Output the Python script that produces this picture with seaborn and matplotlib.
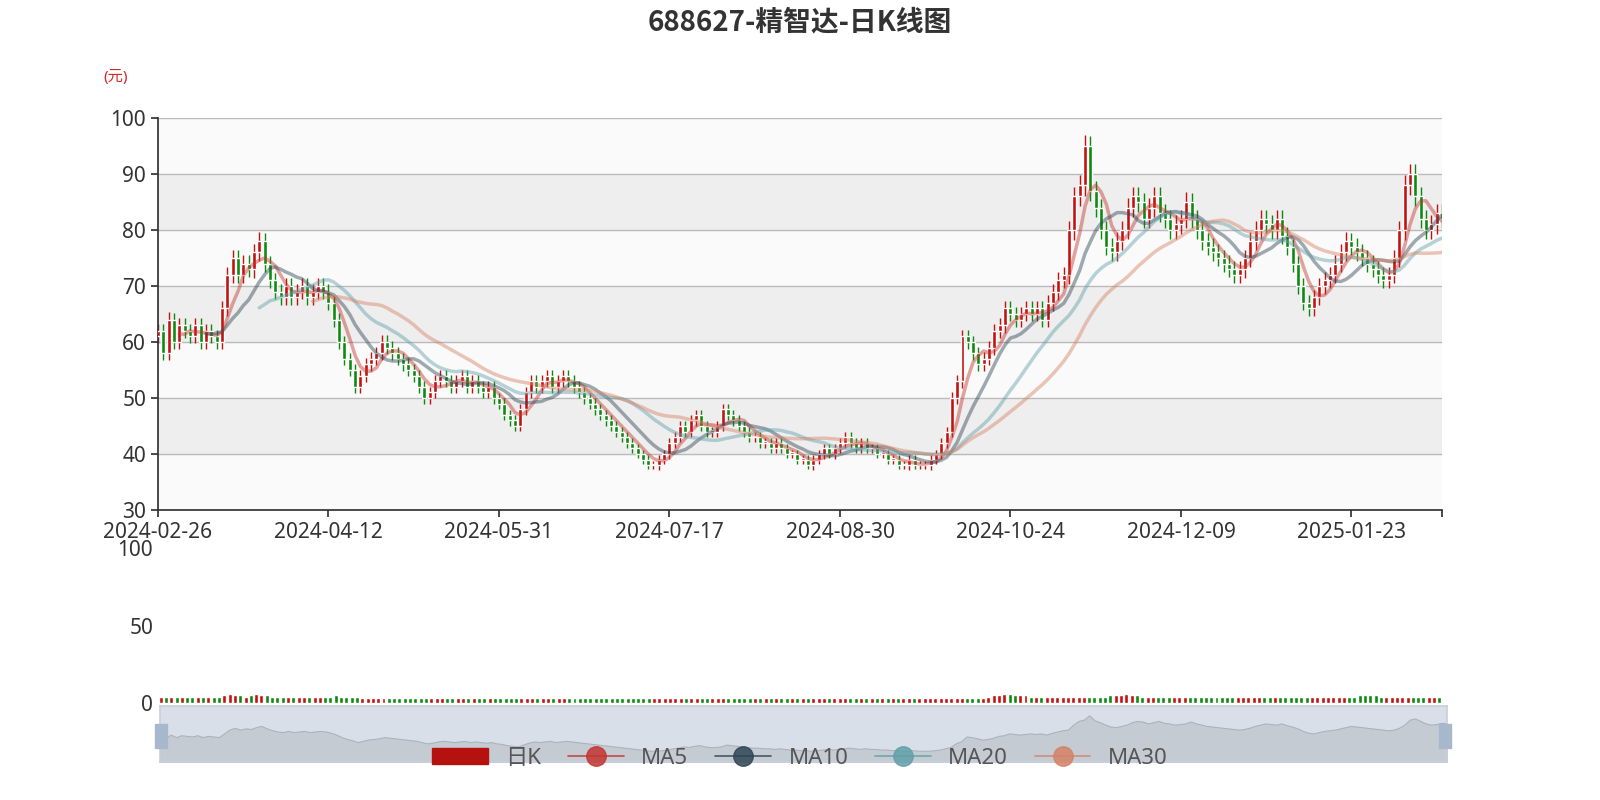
import numpy as np
import pandas as pd
import matplotlib
matplotlib.use("Agg")
import matplotlib.pyplot as plt
from matplotlib.patches import Patch
from matplotlib.lines import Line2D
import seaborn as sns

tick_labels = ["2024-02-26", "2024-04-12", "2024-05-31", "2024-07-17",
               "2024-08-30", "2024-10-24", "2024-12-09", "2025-01-23"]
closes = [62,58,64,60,63,62,61,63,60,62,61,60,
          66,72,75,72,74,73,76,78,74,
          71,69,68,70,68,69,70,68,69,70,69,
          67,64,60,57,55,52,54,56,
          57,58,60,59,58,57,56,55,
          54,52,50,51,53,54,53,52,
          53,54,52,53,52,51,52,50,
          49,47,46,45,48,51,53,52,
          53,54,52,53,54,53,52,51,
          50,49,48,47,46,45,44,43,
          42,41,40,39,38,38,39,40,
          42,43,45,44,46,47,45,44,
          44,45,48,47,46,45,44,43,
          43,42,42,41,42,41,40,40,
          39,39,38,39,40,41,40,41,
          42,43,42,41,42,41,41,40,
          40,39,39,38,38,39,38,38,
          38,39,40,42,44,50,53,61,
          60,58,56,57,59,62,63,66,
          65,64,65,66,65,66,64,67,
          69,71,72,80,86,88,95,87,
          84,80,77,76,78,80,84,86,
          85,82,84,86,83,82,80,81,
          82,85,82,80,78,77,76,75,
          74,73,72,73,75,78,80,82,
          81,80,82,79,77,74,70,67,
          66,68,70,71,72,74,76,78,
          77,76,75,74,73,72,71,72,
          75,80,88,90,86,82,80,81,
          83,82]
volumes = ([3]*12 + [4,5,4,4,3,4,5,4,4] + [3]*11 + [3,4,3,3,3,3,2,2] + [2]*40 +
           [2]*32 + [2]*32 + [2]*12 + [3,4,4,5,5,4,4,4,3,3,3,3] + [3]*8 +
           [3,3,3,4,4,4,5,4,4,3,3,3] + [3]*36 + [3,3,4,4,4,4,3,3,3,3])

n = len(closes)
closes = np.array(closes, float)
opens = np.concatenate([[closes[0] - 1], closes[:-1]])
volumes = np.array(volumes[:n] + [3] * max(0, n - len(volumes)), float) + 1
x = np.arange(n)
df = pd.DataFrame({"x": x, "close": closes})
for w in (5, 10, 20, 30):
    df[f"MA{w}"] = df["close"].rolling(w).mean()

sns.set_theme(style="white")
plt.rcParams['font.family'] = ['Noto Sans', 'Noto Sans CJK SC', 'DejaVu Sans']

fig = plt.figure(figsize=(16, 8), dpi=100)
ax = fig.add_axes([158/1600, 1-510/800, 1284/1600, 392/800])
up, down = "#c4110e", "#0d8a0d"

for lo in range(30, 100, 10):
    ax.axhspan(lo, lo+10, color="#eeeeee" if (lo // 10) % 2 == 0 else "#fafafa", zorder=0)
for y in range(40, 101, 10):
    ax.axhline(y, color="#bbbbbb", lw=1, zorder=1)

hi = np.maximum(opens, closes)
lo_ = np.minimum(opens, closes)
cols = [up if c >= o else down for o, c in zip(opens, closes)]
ax.vlines(x, lo_ - 0.02*closes, hi + 0.02*closes, colors=cols, lw=1, zorder=2)
ax.bar(x, np.maximum(hi - lo_, 0.3), bottom=lo_, width=0.75, color=cols, zorder=3)

ma_cols = {"MA5": "#c23531", "MA10": "#2f4554", "MA20": "#61a0a8", "MA30": "#d48265"}
for k, c in ma_cols.items():
    sns.lineplot(data=df, x="x", y=k, ax=ax, color=c, lw=2.5, alpha=0.45, zorder=4, legend=False)

ax.set_xlim(0, n - 1)
ax.set_ylim(30, 100)
ax.set_yticks(range(30, 101, 10))
ax.set_xticks([i*32 for i in range(len(tick_labels))] + [n-1])
ax.set_xticklabels(tick_labels + [""])
ax.set_xlabel(""); ax.set_ylabel("")
for s in ["top", "right"]:
    ax.spines[s].set_visible(False)
ax.spines["left"].set_color("#333333"); ax.spines["bottom"].set_color("#333333")
ax.tick_params(axis="both", labelsize=15, colors="#333333", length=5, left=True, bottom=True)

fig.text(0.5, 1-22/800, "688627-精智达-日K线图", ha="center", va="center",
         fontsize=20, fontweight="bold", color="#333333",
         family=['Noto Sans CJK SC', 'DejaVu Sans'])
fig.text(103/1600, 1-77/800, "(元)", ha="left", va="center", fontsize=11, color="#d62728")

vax = fig.add_axes([158/1600, 1-703/800, 1284/1600, 155/800])
vax.bar(x, volumes, width=0.75, color=cols)
vax.set_xlim(-0.5, n - 0.5)
vax.set_ylim(0, 100)
vax.set_yticks([0, 50, 100])
vax.set_xticks([])
for s in vax.spines.values():
    s.set_visible(False)
vax.tick_params(axis="y", labelsize=15, colors="#333333", length=0)
vax.patch.set_alpha(0)

sax = fig.add_axes([160/1600, 1-762/800, 1287/1600, 56/800])
sax.set_facecolor("#d8dfe8")
sax.fill_between(x, 0, closes - 20, color="#c5cbd3", lw=0.8, edgecolor="#aab3bf")
sax.set_xlim(0, n - 1); sax.set_ylim(0, 90)
sax.set_xticks([]); sax.set_yticks([])
for s in sax.spines.values():
    s.set_color("#c9d1dc")
for xp in (161, 1445):
    fig.patches.append(plt.Rectangle(((xp-6)/1600, 1-748/800), 12/1600, 24/800,
                                     transform=fig.transFigure, color="#a7b7cc"))

handles = [Patch(color="#b5120f", label="日K")] + [
    Line2D([0], [0], color=c, lw=1.2, marker="o", markersize=14, label=k, alpha=0.85)
    for k, c in ma_cols.items()]
fig.legend(handles=handles, loc="center", bbox_to_anchor=(0.5, 1-758/800), ncol=5,
           frameon=False, fontsize=16, labelcolor="#555555", handlelength=2.5, columnspacing=1.2)

fig.savefig("out.png", dpi=100)
